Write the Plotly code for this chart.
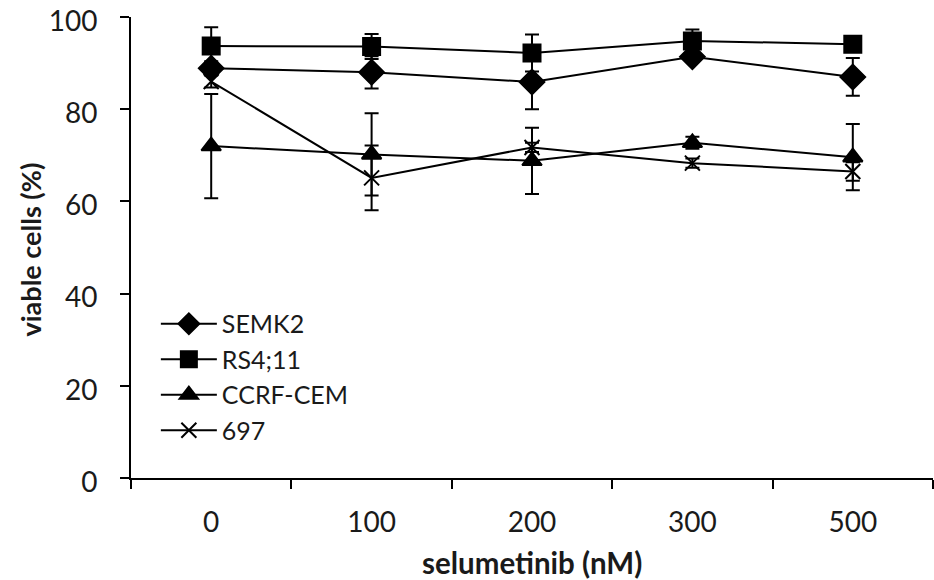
import plotly.graph_objects as go

doses = ["0", "100", "200", "300", "500"]

semk2 = [88.9, 88.0, 85.9, 91.4, 87.0]
semk2_err = [1.5, 3.5, 5.9, 1.0, 4.1]

rs411 = [93.7, 93.6, 92.2, 94.8, 94.1]
rs411_err = [4.1, 2.7, 4.0, 2.5, 1.0]

ccrf = [72.0, 70.2, 68.8, 72.7, 69.6]
ccrf_err = [11.3, 8.9, 7.2, 1.3, 7.2]

s697 = [86.0, 65.1, 71.7, 68.3, 66.5]
s697_err = [1.3, 7.0, 1.0, 1.0, 2.0]

x_title = "selumetinib (nM)"
y_title = "viable cells (%)"

FONT = "Lato"
BLACK = "#000000"
TXT = "#1a1a1a"

series = [
    ("SEMK2", semk2, semk2_err, "diamond", 19),
    ("RS4;11", rs411, rs411_err, "square", 17),
    ("CCRF-CEM", ccrf, ccrf_err, "triangle-up", 17),
    ("697", s697, s697_err, "x-thin", 15),
]

fig = go.Figure()
for name, vals, errs, sym, size in series:
    fig.add_trace(go.Scatter(
        x=doses, y=vals, name=name, mode="lines+markers",
        line=dict(color=BLACK, width=2),
        marker=dict(symbol=sym, size=size, color=BLACK,
                    line=dict(color=BLACK, width=2)),
        error_y=dict(type="data", array=errs, visible=True,
                     color=BLACK, thickness=2, width=7),
    ))

fig.update_layout(
    width=934, height=580,
    margin=dict(l=131, r=1, t=17, b=102),
    paper_bgcolor="white", plot_bgcolor="white",
    font=dict(family=FONT, size=28, color=TXT),
    showlegend=True,
    legend=dict(
        x=0.031, y=0.384, xanchor="left", yanchor="top",
        bgcolor="rgba(0,0,0,0)", font=dict(family=FONT, size=25, color=TXT),
        itemwidth=56, tracegroupgap=0,
    ),
    xaxis=dict(
        type="category", range=[-0.5, 4.5], automargin=False,
        showline=True, linecolor=BLACK, linewidth=2,
        ticks="outside", tickson="boundaries", ticklen=9, tickwidth=2, tickcolor=BLACK,
        ticklabelstandoff=18, ticklabeloverflow="allow",
        showgrid=False, zeroline=False,
        tickfont=dict(family=FONT, size=28, color=TXT),
    ),
    yaxis=dict(
        range=[0, 100], tickvals=[0, 20, 40, 60, 80, 100], automargin=False,
        showline=True, linecolor=BLACK, linewidth=2,
        ticks="outside", ticklen=9, tickwidth=2, tickcolor=BLACK,
        ticklabelstandoff=17, ticklabelshift=4, ticklabeloverflow="allow",
        showgrid=False, zeroline=False,
        tickfont=dict(family=FONT, size=28, color=TXT),
    ),
    annotations=[
        dict(text="<b>%s</b>" % x_title, xref="paper", yref="paper",
             x=0.5, y=0, xanchor="center", yanchor="middle", yshift=-84,
             showarrow=False, font=dict(family=FONT, size=29.5, color=TXT)),
        dict(text="<b>%s</b>" % y_title, xref="paper", yref="paper",
             x=0, y=0.5, xanchor="center", yanchor="middle", xshift=-101, yshift=-2,
             textangle=-90, showarrow=False,
             font=dict(family=FONT, size=27, color=TXT)),
    ],
)

# remove the browser's default 8px body margin so the figure fills the window
fig.write_html("out.html",
               config={"displayModeBar": False},
               post_script="document.body.style.margin='0';document.body.style.overflow='hidden';")
